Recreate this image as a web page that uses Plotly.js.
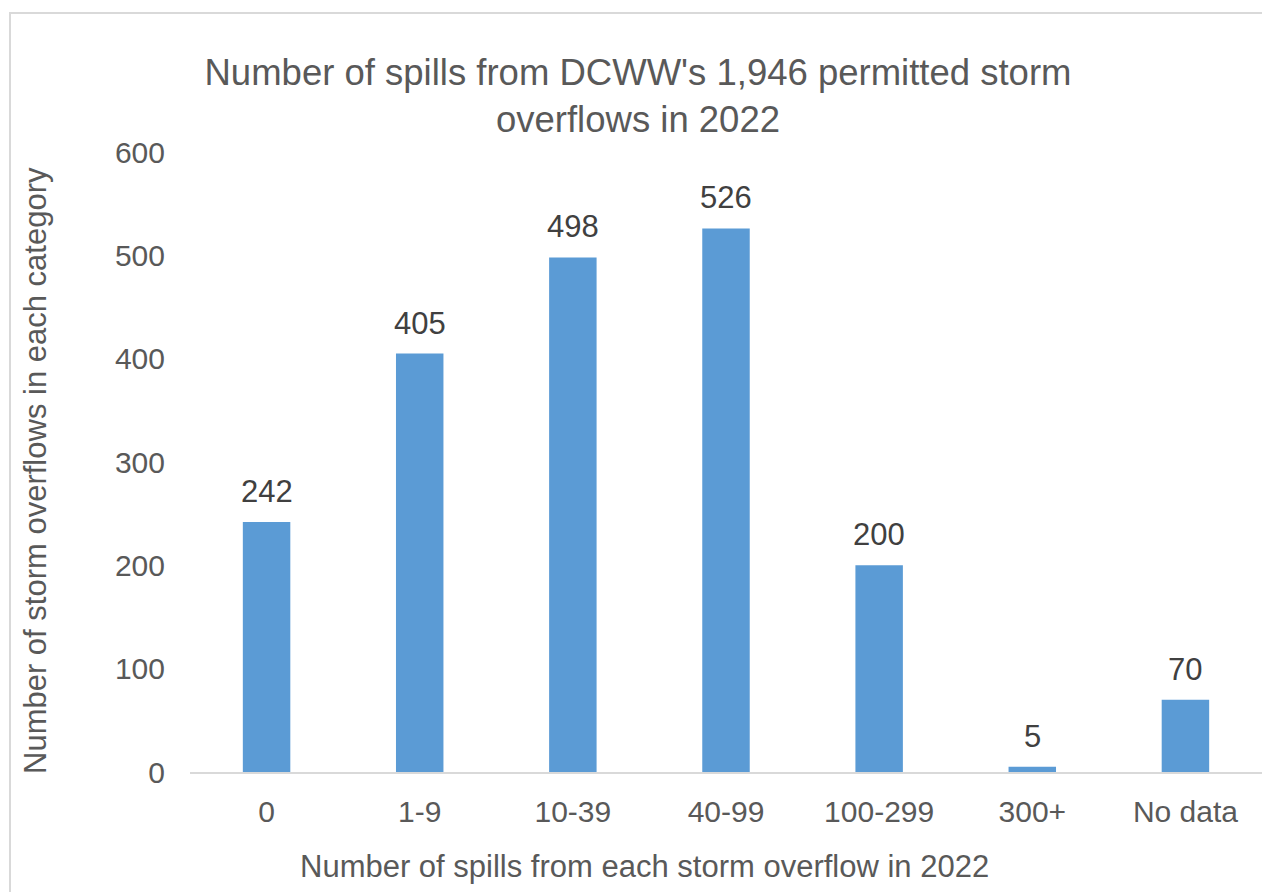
<!DOCTYPE html>
<html>
<head>
<meta charset="utf-8">
<script src="https://cdn.plot.ly/plotly-3.0.1.min.js"></script>
<style>
  html, body { margin: 0; padding: 0; background: #ffffff; }
  #wrap { position: relative; width: 1262px; height: 892px; overflow: hidden; }
  #chart { position: absolute; left: 0; top: 0; width: 1262px; height: 892px; }
  #frame { position: absolute; left: 9px; top: 12px; width: 1300px; height: 900px;
           border-top: 2px solid #d9d9d9; border-left: 2px solid #d9d9d9; pointer-events: none; }
</style>
</head>
<body>
<div id="wrap">
  <div id="chart"></div>
  <div id="frame"></div>
</div>
<script>
const categories = ["0", "1-9", "10-39", "40-99", "100-299", "300+", "No data"];
const counts = [242, 405, 498, 526, 200, 5, 70];
const yTickValues = [0, 100, 200, 300, 400, 500, 600];

const FONT = "Liberation Sans, Arial, sans-serif";

const trace = {
  type: "bar",
  x: categories,
  y: counts,
  marker: { color: "#5B9BD5", line: { width: 0 } },
  hoverinfo: "x+y"
};

const labelAnnotations = categories.map((c, i) => ({
  x: c, y: counts[i], xref: "x", yref: "y",
  text: String(counts[i]), showarrow: false,
  yanchor: "bottom", yshift: 11,
  font: { family: FONT, size: 31, color: "#404040" }
}));

const axisTitleAnnotations = [
  {
    text: "Number of spills from each storm overflow in 2022",
    xref: "paper", yref: "paper",
    x: (644 - 190) / 1072, y: -(866 - 772) / 620,
    xanchor: "center", yanchor: "middle", showarrow: false,
    font: { family: FONT, size: 31, color: "#595959" }
  },
  {
    text: "Number of storm overflows in each category",
    xref: "paper", yref: "paper",
    x: -(190 - 35) / 1072, y: (772 - 471) / 620,
    xanchor: "center", yanchor: "middle", textangle: -90, showarrow: false,
    font: { family: FONT, size: 31, color: "#595959" }
  }
];

const layout = {
  width: 1262, height: 892,
  margin: { l: 190, r: 0, t: 152, b: 120 },
  paper_bgcolor: "#ffffff",
  plot_bgcolor: "#ffffff",
  showlegend: false,
  bargap: 0.69,
  title: {
    text: "Number of spills from DCWW's 1,946 permitted storm<br>overflows in 2022",
    font: { family: FONT, size: 36.5, color: "#595959" },
    x: 638 / 1262, xref: "container", xanchor: "center",
    y: 1 - 85 / 892, yref: "container", yanchor: "top"
  },
  xaxis: {
    type: "category",
    showline: true, linecolor: "#d9d9d9", linewidth: 2,
    showgrid: false, zeroline: false, ticks: "",
    ticklabelstandoff: 12,
    tickfont: { family: FONT, size: 30, color: "#595959" }
  },
  yaxis: {
    range: [0, 600],
    tickvals: yTickValues,
    ticktext: yTickValues.map(String),
    showline: false, showgrid: false, zeroline: false, ticks: "",
    ticklabelstandoff: 24,
    tickfont: { family: FONT, size: 30, color: "#595959" }
  },
  annotations: labelAnnotations.concat(axisTitleAnnotations)
};

Plotly.newPlot("chart", [trace], layout, { displayModeBar: false, staticPlot: true });
</script>
</body>
</html>
